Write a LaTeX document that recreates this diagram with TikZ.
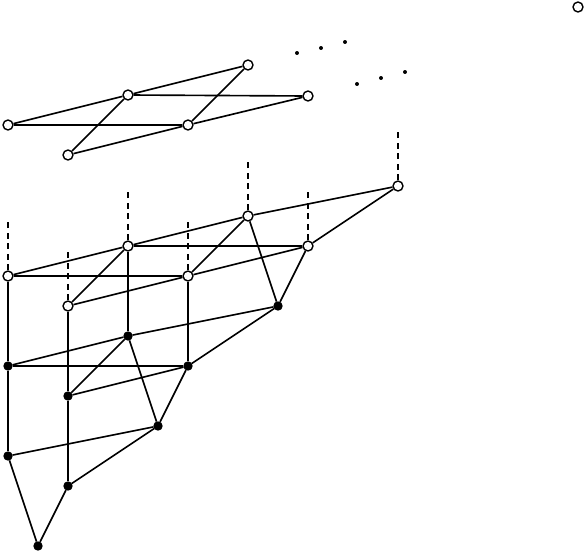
\documentclass[tikz,border=0pt]{standalone}
\usepackage{tikz}
\usetikzlibrary{positioning}

\begin{document}
\begin{tikzpicture}[x=0.03cm, y=-0.03cm, line width=1.4pt,
    hollow/.style={circle, draw, fill=white, line width=1.2pt, inner sep=0pt, minimum size=8.5pt},
    solid/.style={circle, draw, fill=black, inner sep=0pt, minimum size=6.5pt},
    speck/.style={circle, fill=black, inner sep=0pt, minimum size=3.4pt},
    upper/.style={dash pattern=on 5pt off 4pt}]
    \useasboundingbox (0,0) rectangle (587,554);

    % upper sheet
    \node[hollow] (t1) at (8,125) {};
    \node[hollow] (t2) at (128,95) {};
    \node[hollow] (t3) at (248,65) {};
    \node[hollow] (t4) at (68,155) {};
    \node[hollow] (t5) at (188,125) {};
    \node[hollow] (t6) at (308,96) {};
    \foreach \a/\b in {t1/t2, t2/t3, t1/t5, t2/t6, t2/t4, t3/t5, t4/t5, t5/t6}
        \draw (\a) -- (\b);

    % dots and lone point
    \foreach \x/\y [count=\i] in {297/53, 321/48, 345/42, 357/84, 381/78, 405/72}
        \node[speck] (d\i) at (\x,\y) {};
    \node[hollow] (far) at (578,7) {};

    % lower frame, open points
    \node[hollow] (a) at (8,276) {};
    \node[hollow] (b) at (128,246) {};
    \node[hollow] (c) at (248,216) {};
    \node[hollow] (d) at (398,186) {};
    \node[hollow] (e) at (68,306) {};
    \node[hollow] (f) at (188,276) {};
    \node[hollow] (g) at (308,246) {};

    % lower frame, filled points
    \node[solid] (h) at (278,306) {};
    \node[solid] (i) at (128,336) {};
    \node[solid] (j) at (8,366) {};
    \node[solid] (k) at (188,366) {};
    \node[solid] (l) at (68,396) {};
    \node[solid] (m) at (158,426) {};
    \node[solid] (n) at (8,456) {};
    \node[solid] (o) at (68,486) {};
    \node[solid] (p) at (38,546) {};

    % dashed stubs going up
    \foreach \v in {a,b,c,d,e,f,g} {
        \path (\v.center) ++(0,-54) coordinate (\v top);
        \draw[upper] (\v) -- (\v top);
    }

    \foreach \a/\b in {a/b, b/c, c/d, a/f, b/g, b/e, c/f, e/f, f/g, g/d, c/h, g/h,
                       a/j, j/n, b/i, f/k, e/l, l/o,
                       j/i, i/h, j/k, i/l, l/k, k/h, i/m, k/m, n/m, m/o, n/p, o/p}
        \draw (\a) -- (\b);
\end{tikzpicture}
\end{document}
